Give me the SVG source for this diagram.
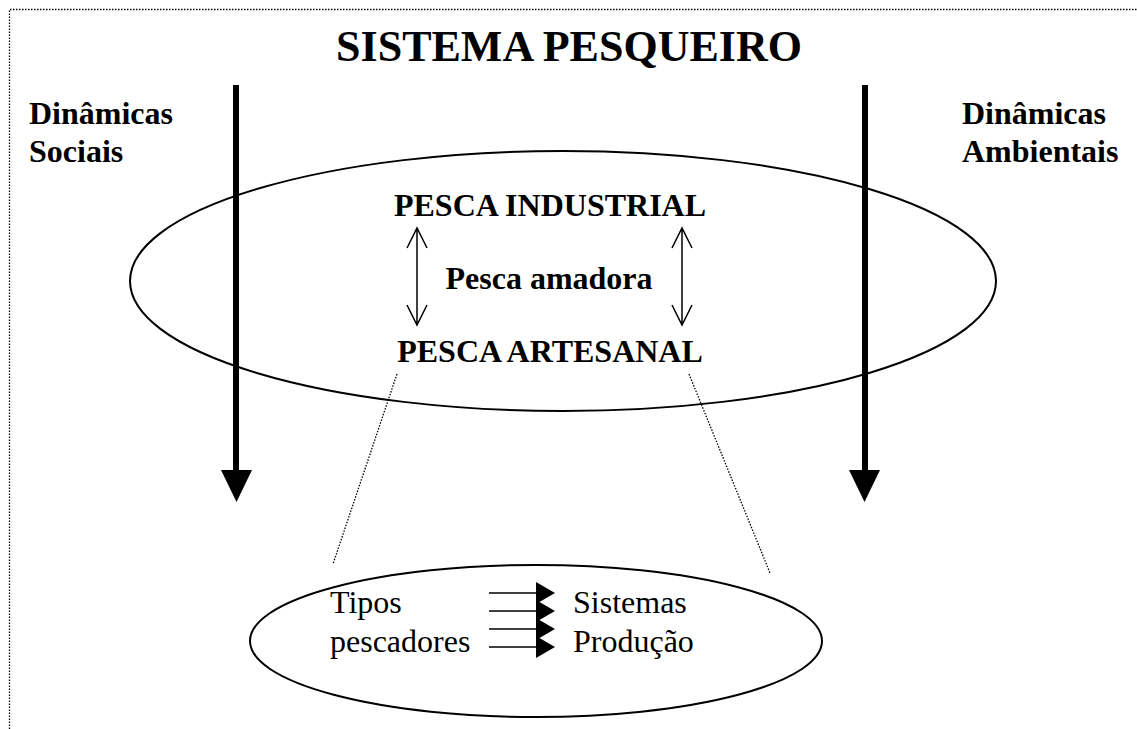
<svg xmlns="http://www.w3.org/2000/svg" width="1137" height="729" viewBox="0 0 1137 729">
<style>
.b{font-family:"Liberation Serif","Times New Roman",serif;font-weight:bold;font-size:32px;fill:#000}
.r{font-family:"Liberation Serif","Times New Roman",serif;font-size:32px;fill:#000}
.ell{fill:none;stroke:#000;stroke-width:2}
.dot{fill:none;stroke:#000;stroke-width:1.3;stroke-dasharray:1.5 1.5}
.thin{fill:none;stroke:#000;stroke-width:1.5}
</style>
<rect width="1137" height="729" fill="#fff"/>
<path class="dot" d="M9.5,729 V9.5 H1137"/>
<text class="b" x="569" y="61" text-anchor="middle" style="font-size:44px">SISTEMA PESQUEIRO</text>
<g id="ellipse-main"><ellipse class="ell" cx="563" cy="281" rx="433" ry="130"/></g>
<g id="ellipse-detail"><ellipse class="ell" cx="536" cy="641" rx="286" ry="76"/></g>
<g id="dinamicas-sociais"><text class="b" x="29" y="124">Dinâmicas</text><text class="b" x="29" y="162">Sociais</text></g>
<g id="dinamicas-ambientais"><text class="b" x="962" y="124">Dinâmicas</text><text class="b" x="962" y="162">Ambientais</text></g>
<g id="pesca-industrial"><text class="b" x="550" y="216" text-anchor="middle">PESCA INDUSTRIAL</text></g>
<g id="pesca-amadora"><text class="b" x="549" y="289" text-anchor="middle">Pesca amadora</text></g>
<g id="pesca-artesanal"><text class="b" x="550" y="362" text-anchor="middle">PESCA ARTESANAL</text></g>
<g id="tipos-pescadores"><text class="r" x="330" y="613">Tipos</text><text class="r" x="330" y="652">pescadores</text></g>
<g id="sistemas-producao"><text class="r" x="573" y="613">Sistemas</text><text class="r" x="573" y="652">Produção</text></g>
<g id="connectors">
<rect x="233" y="85" width="6" height="387"/>
<polygon points="221,470 252,470 236.5,502"/>
<rect x="862" y="85" width="6" height="387"/>
<polygon points="849,470 880,470 864.5,502"/>
<path class="thin" d="M417,228 V325 M407,248 L417,228 L427,248 M407,305 L417,325 L427,305"/>
<path class="thin" d="M682,228 V325 M672,248 L682,228 L692,248 M672,305 L682,325 L692,305"/>
<path class="dot" d="M397,374 L333,564"/>
<path class="dot" d="M689,374 L770,573"/>
<g>
<path class="thin" d="M489,593 H537 M489,611 H537 M489,629 H537 M489,647 H537"/>
<polygon points="536,582 555,593 536,604"/>
<polygon points="536,600 555,611 536,622"/>
<polygon points="536,618 555,629 536,640"/>
<polygon points="536,636 555,647 536,658"/>
</g>
</g>
</svg>
